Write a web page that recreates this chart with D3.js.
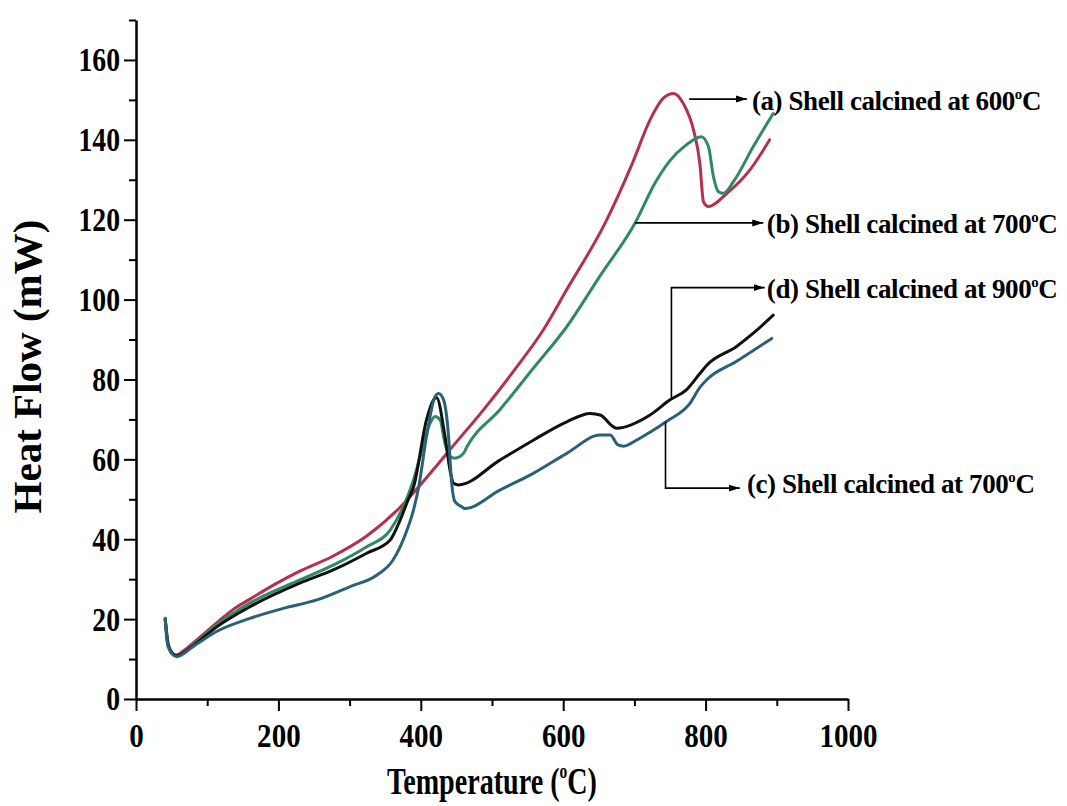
<!doctype html>
<html>
  <head>
    <meta charset="utf-8" />
    <title>DSC heat flow</title>
    <script src="https://cdn.jsdelivr.net/npm/d3@7"></script>
    <style>
      html,
      body {
        margin: 0;
        padding: 0;
        background: #fff;
        overflow: hidden;
      }
      svg text {
        font-family: "Liberation Serif", "Times New Roman", serif;
        font-weight: bold;
        fill: #000;
      }
    </style>
  </head>
  <body>
    <script>
      // Curve (a) shell calcined at 600 C
      const tempA = [41, 45, 50, 57, 65, 80, 113, 137, 160, 198, 230, 277, 324, 371, 418, 446, 488, 535, 572, 605, 659, 698, 722, 741, 755, 769, 783, 792, 797, 804, 830, 862, 890];
      const flowA = [20, 14, 11.5, 11, 11.8, 14, 19, 22.5, 25, 29, 32, 35.8, 40.8, 48, 57.5, 63.5, 72.4, 83.2, 92.4, 102.5, 119.2, 134.5, 145, 150.5, 151.6, 149, 142.5, 134, 124.5, 123.3, 126.6, 132.4, 140];

      // Curve (b) shell calcined at 700 C
      const tempB = [41, 45, 50, 57, 65, 80, 113, 160, 230, 277, 324, 357, 375, 390, 399, 413, 420, 427, 434, 441, 448, 460, 465, 511, 558, 605, 652, 701, 730, 750, 772, 794, 804, 811, 818, 825, 839, 867, 895];
      const flowB = [20, 14, 11.5, 10.8, 11.3, 13.5, 18.5, 24, 29.8, 33.5, 38.1, 42.3, 48, 55, 60.7, 69, 70.7, 69.9, 64, 60.7, 60.3, 61.5, 63.2, 72.4, 82.8, 93.2, 106, 119.2, 129.5, 134.8, 138.6, 140.8, 138.3, 130.8, 127, 126.6, 129.5, 138.3, 146.6];

      // Curve (c) shell calcined at 700 C
      const tempC = [41, 45, 57, 80, 113, 160, 207, 254, 300, 338, 361, 380, 390, 397, 408, 420, 425, 432, 439, 443, 448, 457, 462, 511, 558, 605, 652, 666, 677, 685, 703, 722, 745, 778, 792, 802, 843, 893];
      const flowC = [20.2, 13.1, 10.6, 13.1, 16.9, 20.2, 22.7, 24.8, 28.1, 31, 34.8, 42, 47.5, 53, 65.7, 75.7, 76.5, 74.9, 65.7, 54.8, 49.4, 48.2, 47.7, 52.3, 56.5, 61.5, 66.1, 66.1, 63.6, 63.3, 64.8, 66.8, 69.5, 74, 78, 80, 84.5, 90.3];

      // Curve (d) shell calcined at 900 C
      const tempD = [41, 45, 57, 80, 113, 160, 230, 277, 324, 357, 371, 382, 390, 408, 418, 422, 434, 441, 446, 453, 511, 558, 605, 638, 652, 670, 675, 722, 750, 773, 792, 802, 843, 867, 895];
      const flowD = [20, 13.5, 10.8, 13.3, 18, 23.1, 29, 32.3, 36.5, 39.8, 44.8, 49.8, 53.2, 69.9, 74.9, 75.5, 65.7, 57.3, 54, 53.6, 59.8, 64.8, 69.4, 71.5, 71.1, 68.2, 67.8, 71.1, 74.9, 77.4, 81.5, 83.6, 88.2, 91.6, 96.1];

      const xTicks = [0, 200, 400, 600, 800, 1000];
      const xMinor = [100, 300, 500, 700, 900];
      const yTicks = [0, 20, 40, 60, 80, 100, 120, 140, 160];
      const yMinor = [10, 30, 50, 70, 90, 110, 130, 150, 170];

      const labelA = ["(a) Shell calcined at 600", "C"];
      const labelB = ["(b) Shell calcined at 700", "C"];
      const labelC = ["(c) Shell calcined at 700", "C"];
      const labelD = ["(d) Shell calcined at 900", "C"];

      const series = [
        { key: "a", temp: tempA, flow: flowA, color: "#b3304f" },
        { key: "b", temp: tempB, flow: flowB, color: "#2f8a62" },
        { key: "d", temp: tempD, flow: flowD, color: "#111111" },
        { key: "c", temp: tempC, flow: flowC, color: "#2a6179" },
      ];

      const serif = "Liberation Serif, Times New Roman, serif";
      const width = 1067;
      const height = 806;

      const x = d3.scaleLinear().domain([0, 1000]).range([136, 848]);
      const y = d3.scaleLinear().domain([0, 170]).range([699, 20]);

      const svg = d3
        .select("body")
        .append("svg")
        .attr("width", width)
        .attr("height", height)
        .attr("viewBox", [0, 0, width, height]);

      svg
        .append("defs")
        .append("marker")
        .attr("id", "arrow")
        .attr("viewBox", "0 0 11 8")
        .attr("refX", 11)
        .attr("refY", 4)
        .attr("markerWidth", 11)
        .attr("markerHeight", 8)
        .attr("markerUnits", "userSpaceOnUse")
        .attr("orient", "auto")
        .append("path")
        .attr("d", "M0,0.5 L11,4 L0,7.5 Z")
        .attr("fill", "#000");

      // minor ticks first, then the labelled axes on top
      svg
        .append("g")
        .attr("transform", `translate(0,${y(0)})`)
        .call(d3.axisBottom(x).tickValues(xMinor).tickSize(7).tickFormat(""))
        .call((g) => g.select(".domain").remove())
        .call((g) => g.selectAll("line").attr("stroke-width", 2));

      svg
        .append("g")
        .attr("transform", `translate(${x(0)},0)`)
        .call(d3.axisLeft(y).tickValues(yMinor).tickSize(7).tickFormat(""))
        .call((g) => g.select(".domain").remove())
        .call((g) => g.selectAll("line").attr("stroke-width", 2));

      const xAxis = svg
        .append("g")
        .attr("transform", `translate(0,${y(0)})`)
        .call(
          d3
            .axisBottom(x)
            .tickValues(xTicks)
            .tickSize(12)
            .tickSizeOuter(0)
            .tickPadding(36)
            .tickFormat(d3.format("d")),
        );
      xAxis.select(".domain").attr("stroke-width", 2.5);
      xAxis.selectAll("line").attr("stroke-width", 2);
      xAxis
        .selectAll("text")
        .attr("font-family", serif)
        .attr("font-size", 33)
        .attr("dy", 0)
        .attr("transform", "scale(0.88,1)")
        .attr("fill", "#000");

      const yAxis = svg
        .append("g")
        .attr("transform", `translate(${x(0)},0)`)
        .call(d3.axisLeft(y).tickValues(yTicks).tickSize(12).tickSizeOuter(0).tickPadding(4));
      yAxis.select(".domain").attr("stroke-width", 2.5);
      yAxis.selectAll("line").attr("stroke-width", 2);
      yAxis
        .selectAll("text")
        .attr("font-family", serif)
        .attr("font-size", 33)
        .attr("dy", "0.33em")
        .attr("x", -16 / 0.84)
        .attr("transform", "scale(0.84,1)")
        .attr("fill", "#000");

      // curves
      const line = d3
        .line()
        .x((d) => x(d[0]))
        .y((d) => y(d[1]))
        .curve(d3.curveMonotoneX);

      svg
        .append("g")
        .selectAll("path")
        .data(series)
        .join("path")
        .attr("fill", "none")
        .attr("stroke", (d) => d.color)
        .attr("stroke-width", 3)
        .attr("stroke-linejoin", "round")
        .attr("stroke-linecap", "round")
        .attr("d", (d) => line(d.temp.map((t, i) => [t, d.flow[i]])));

      // annotation leaders, given in data units
      const leaders = [
        { pts: [[777, 150.2], [858, 150.2]] },
        { pts: [[701, 119.2], [881, 119.2]] },
        { pts: [[752, 75.4], [752, 103], [883, 103]] },
        { pts: [[743.7, 69.4], [743.7, 52.8], [848, 52.8]] },
      ];
      const leaderLine = d3
        .line()
        .x((d) => x(d[0]))
        .y((d) => y(d[1]));
      svg
        .append("g")
        .selectAll("path")
        .data(leaders)
        .join("path")
        .attr("fill", "none")
        .attr("stroke", "#000")
        .attr("stroke-width", 1.6)
        .attr("marker-end", "url(#arrow)")
        .attr("d", (d) => leaderLine(d.pts));

      const notes = [
        { at: [865, 147.4], text: labelA },
        { at: [886, 116.6], text: labelB },
        { at: [886, 100.4], text: labelD },
        { at: [858, 51.6], text: labelC },
      ];

      function degreeText(sel, parts, size) {
        sel.append("tspan").text(parts[0]);
        sel
          .append("tspan")
          .attr("font-size", size * 0.55)
          .attr("dy", -size * 0.42)
          .text("o");
        sel
          .append("tspan")
          .attr("dy", size * 0.42)
          .text(parts[1]);
      }

      svg
        .append("g")
        .selectAll("text")
        .data(notes)
        .join("text")
        .attr("font-family", serif)
        .attr("x", (d) => x(d.at[0]))
        .attr("y", (d) => y(d.at[1]))
        .attr("font-size", 27)
        .attr("letter-spacing", -0.4)
        .each(function (d) {
          degreeText(d3.select(this), d.text, 27);
        });

      // axis titles
      svg
        .append("text")
        .attr("font-family", serif)
        .attr("transform", `translate(41,${(y(0) + y(170)) / 2 + 7}) rotate(-90)`)
        .attr("text-anchor", "middle")
        .attr("font-size", 41)
        .text("Heat Flow (mW)");

      const xTitle = svg
        .append("text")
        .attr("font-family", serif)
        .attr("transform", `translate(${(x(0) + x(1000)) / 2},794) scale(0.74,1)`)
        .attr("text-anchor", "middle")
        .attr("font-size", 38);
      degreeText(xTitle.append("tspan").text("Temperature ("), ["", "C)"], 38);
    </script>
  </body>
</html>
